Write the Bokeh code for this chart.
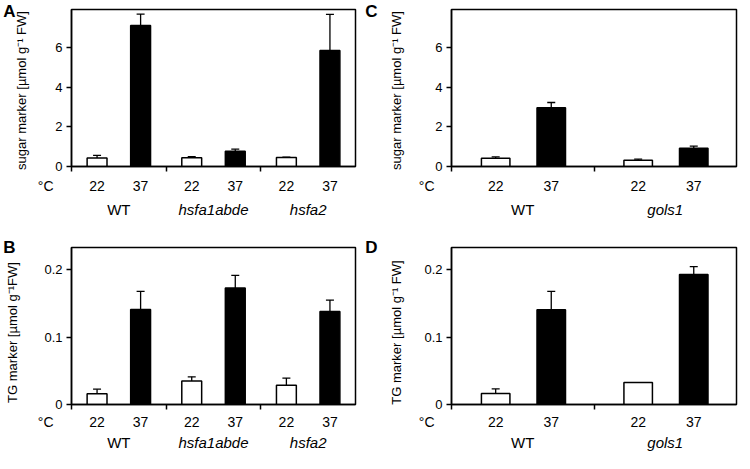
from bokeh.plotting import figure
from bokeh.models import (Range1d, FixedTicker, Whisker, TeeHead, ColumnDataSource,
                          LinearAxis)
from bokeh.layouts import column, row
from bokeh.core.properties import value
from bokeh.embed import file_html
from bokeh.resources import INLINE

FONT = "Liberation Sans"

temps = ["22", "37"]
groups_ab = ["WT", "hsfa1abde", "hsfa2"]
groups_cd = ["WT", "gols1"]
italic_ab = [False, True, True]
italic_cd = [False, True]

sugar_ab_mean = [0.43, 7.09, 0.44, 0.77, 0.45, 5.84]
sugar_ab_err = [0.13, 0.58, 0.06, 0.10, 0.02, 1.81]
tg_ab_mean = [0.0161, 0.141, 0.035, 0.173, 0.0284, 0.138]
tg_ab_err = [0.0066, 0.027, 0.006, 0.0185, 0.0108, 0.017]
sugar_cd_mean = [0.42, 2.96, 0.31, 0.92]
sugar_cd_err = [0.06, 0.26, 0.06, 0.11]
tg_cd_mean = [0.0165, 0.1406, 0.0325, 0.193]
tg_cd_err = [0.0066, 0.0274, 0.0, 0.0117]

sugar_ticks = [0, 2, 4, 6]
tg_ticks = [0, 0.1, 0.2]
sugar_ymax = 7.9
tg_ymax = 0.233

sugar_label = "sugar marker [µmol g⁻¹ FW]"
tg_label_b = "TG marker [µmol g⁻¹FW]"
tg_label_d = "TG marker [µmol g⁻¹ FW]"


def side_axis(pos, text, standoff, size, style, orientation):
    ax = LinearAxis(y_range_name="px",
                    ticker=FixedTicker(ticks=[pos], minor_ticks=[]),
                    major_label_overrides={pos: text},
                    major_label_orientation=orientation)
    ax.axis_line_color = None
    ax.major_tick_line_color = None
    ax.minor_tick_line_color = None
    ax.major_tick_out = 0
    ax.major_tick_in = 0
    ax.minor_tick_out = 0
    ax.minor_tick_in = 0
    ax.major_label_standoff = standoff
    ax.major_label_text_font = FONT
    ax.major_label_text_font_size = size
    ax.major_label_text_font_style = style
    ax.major_label_text_color = "black"
    return ax


def panel(letter, groups, italic, means, errs, ymax, yticks, ylabel,
          offsets, bar_w, bl, fw, br, bt, fh, sh, tick_y, group_y,
          title_pos, title_standoff, letter_pos, letter_standoff, degc_standoff):
    ng = len(groups)
    xmax = 100 * ng

    p = figure(frame_width=fw, frame_height=fh, min_border_left=bl,
               min_border_right=br, min_border_top=bt, min_border_bottom=8,
               x_range=Range1d(0, xmax), y_range=Range1d(0, ymax),
               output_backend="svg", toolbar_location=None,
               background_fill_color="white", border_fill_color="white")
    p.outline_line_color = "black"
    p.outline_line_width = 1.5
    p.xgrid.visible = False
    p.ygrid.visible = False

    xs, fills, tops, ups, labs = [], [], [], [], []
    for gi in range(ng):
        for ti in range(2):
            k = gi * 2 + ti
            xs.append(gi * 100 + offsets[ti])
            fills.append("white" if ti == 0 else "black")
            tops.append(means[k])
            ups.append(means[k] + errs[k])
            labs.append(temps[ti])
    src = ColumnDataSource(dict(x=xs, top=tops, up=ups, fill=fills))
    p.add_layout(Whisker(base="x", lower="top", upper="up", source=src,
                         line_color="black", line_width=1.3, lower_head=None,
                         upper_head=TeeHead(size=8, line_color="black",
                                            line_width=1.3)))
    p.vbar(x="x", top="top", width=bar_w, fill_color="fill",
           line_color="black", line_width=1.5, source=src)

    xa = p.xaxis[0]
    xa.ticker = FixedTicker(ticks=[], minor_ticks=[g * 100 for g in range(ng)])
    xa.major_tick_out = 0
    xa.major_tick_in = 0
    xa.minor_tick_out = 5
    xa.minor_tick_in = 0
    xa.minor_tick_line_width = 1.5
    xa.axis_line_width = 1.5
    xa.major_label_standoff = 0
    xa.major_label_text_font_size = "0px"

    ya = p.yaxis[0]
    ya.ticker = FixedTicker(ticks=yticks, minor_ticks=[])
    ya.major_label_overrides = {0: "0"}
    ya.major_tick_out = 5
    ya.major_tick_in = 0
    ya.major_tick_line_width = 1.5
    ya.axis_line_width = 1.5
    ya.major_label_standoff = 4
    ya.major_label_text_font = FONT
    ya.major_label_text_font_size = "13px"
    ya.major_label_text_color = "black"

    # y title and panel letter as outer left axes on a pixel-unit range
    p.extra_y_ranges = {"px": Range1d(0, fh)}
    p.add_layout(side_axis(title_pos, ylabel, title_standoff, "13px",
                           "normal", "parallel"), "left")
    p.add_layout(side_axis(letter_pos, letter, letter_standoff, "17px",
                           "bold", "horizontal"), "left")

    # strip below: temperature row and genotype row
    s = figure(frame_width=fw, frame_height=sh, min_border_left=bl,
               min_border_right=br, min_border_top=0, min_border_bottom=0,
               x_range=Range1d(0, xmax), y_range=Range1d(0, sh),
               x_axis_location=None, y_axis_location="left",
               toolbar_location=None, output_backend="svg",
               background_fill_color="white", border_fill_color="white")
    s.outline_line_color = None
    s.grid.visible = False
    sa = s.yaxis[0]
    sa.ticker = FixedTicker(ticks=[sh - tick_y], minor_ticks=[])
    sa.major_label_overrides = {sh - tick_y: "°C"}
    sa.axis_line_color = None
    sa.major_tick_line_color = None
    sa.minor_tick_line_color = None
    sa.major_label_standoff = degc_standoff
    sa.major_label_text_font = FONT
    sa.major_label_text_font_size = "14px"
    sa.major_label_text_color = "black"

    tsrc = ColumnDataSource(dict(x=xs, lab=labs))
    s.text(x="x", y=sh - tick_y, text="lab", source=tsrc,
           text_font=value(FONT), text_font_size=value("14px"),
           text_align="center", text_baseline="middle", text_color="black")
    gsrc = ColumnDataSource(dict(
        x=[gi * 100 + 50 for gi in range(ng)], lab=groups,
        style=["italic" if it else "normal" for it in italic]))
    s.text(x="x", y=sh - group_y, text="lab", source=gsrc,
           text_font=value(FONT), text_font_size=value("15px"),
           text_font_style="style", text_align="center",
           text_baseline="middle", text_color="black")

    return column(p, s)


offs_ab = [27, 73]
offs_cd = [31, 70]

pa = panel("A", groups_ab, italic_ab, sugar_ab_mean, sugar_ab_err, sugar_ymax,
           sugar_ticks, sugar_label, offs_ab, 21,
           71, 284, 7, 9, 157, 54, 11, 35, 76, 24, 155, -5, 12)
pc = panel("C", groups_cd, italic_cd, sugar_cd_mean, sugar_cd_err, sugar_ymax,
           sugar_ticks, sugar_label, offs_cd, 20,
           85, 285, 2, 9, 157, 54, 11, 35, 76, 29, 155, 8, 11)
pb = panel("B", groups_ab, italic_ab, tg_ab_mean, tg_ab_err, tg_ymax,
           tg_ticks, tg_label_b, offs_ab, 21,
           71, 284, 7, 19, 157, 41, 9, 30, 72, 22, 157, -14, 12)
pd = panel("D", groups_cd, italic_cd, tg_cd_mean, tg_cd_err, tg_ymax,
           tg_ticks, tg_label_d, offs_cd, 20,
           85, 285, 2, 19, 157, 41, 9, 30, 72, 18, 157, 8, 11)

layout = column(row(pa, pc), row(pb, pd))
open("out.html", "w").write(file_html(layout, INLINE))
